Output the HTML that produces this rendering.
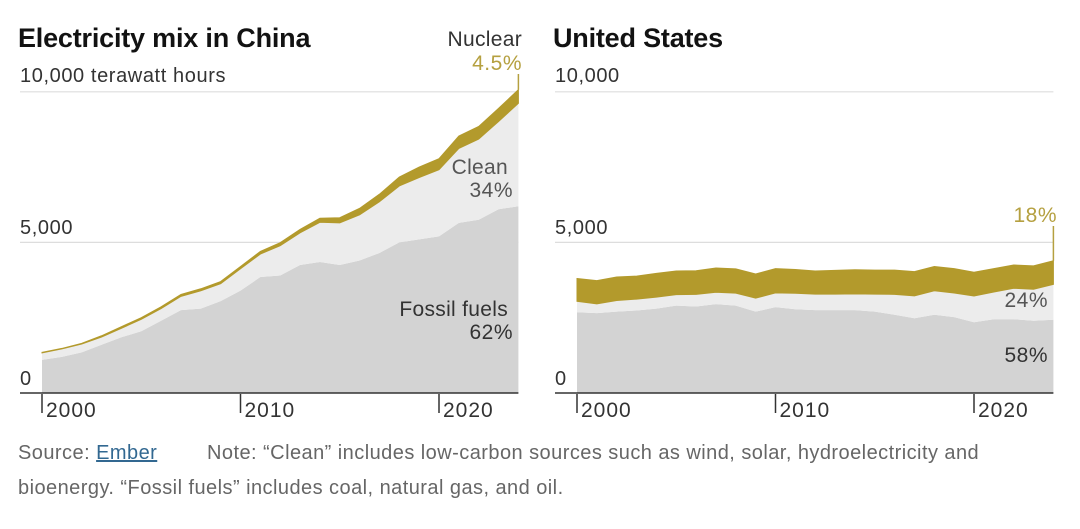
<!DOCTYPE html>
<html><head><meta charset="utf-8"><style>
body{margin:0;background:#fff;}
svg text{font-family:"Liberation Sans",sans-serif;}
</style></head><body>
<svg id="c" width="1080" height="524" xmlns="http://www.w3.org/2000/svg">
<text x="18" y="47" font-size="27" font-weight="bold" fill="#121212" letter-spacing="-0.2">Electricity mix in China</text>
<text x="553" y="47" font-size="27" font-weight="bold" fill="#121212" letter-spacing="-0.2">United States</text>
<text x="20" y="82" font-size="20" fill="#333" letter-spacing="0.6">10,000 terawatt hours</text>
<text x="555" y="82" font-size="20" fill="#333" letter-spacing="0.6">10,000</text>
<text x="20" y="234" font-size="20" fill="#333" letter-spacing="0.6">5,000</text>
<text x="555" y="234" font-size="20" fill="#333" letter-spacing="0.6">5,000</text>
<text x="20" y="385" font-size="20" fill="#333">0</text>
<text x="555" y="385" font-size="20" fill="#333">0</text>
<g id="china"></g>
<g id="us"></g>
<text x="522" y="46" font-size="21" fill="#333" text-anchor="end" letter-spacing="0.3">Nuclear</text>
<text x="522" y="70" font-size="21" fill="#b5a040" text-anchor="end" letter-spacing="0.5">4.5%</text>
<text x="508" y="174" font-size="21" fill="#555" text-anchor="end" letter-spacing="0.3">Clean</text>
<text x="513" y="197" font-size="21" fill="#555" text-anchor="end" letter-spacing="0.5">34%</text>
<text x="508" y="316" font-size="21" fill="#333" text-anchor="end" letter-spacing="0.3">Fossil fuels</text>
<text x="513" y="339" font-size="21" fill="#333" text-anchor="end" letter-spacing="0.5">62%</text>
<text x="1057" y="222" font-size="21" fill="#b5a040" text-anchor="end" letter-spacing="0.5">18%</text>
<text x="1048" y="307" font-size="21" fill="#555" text-anchor="end" letter-spacing="0.5">24%</text>
<text x="1048" y="362" font-size="21" fill="#333" text-anchor="end" letter-spacing="0.5">58%</text>
<text x="18" y="459" font-size="20" fill="#666" letter-spacing="0.45">Source: <tspan fill="#326891" text-decoration="underline">Ember</tspan></text>
<text x="207" y="459" font-size="20" fill="#666" letter-spacing="0.45">Note: “Clean” includes low-carbon sources such as wind, solar, hydroelectricity and</text>
<text x="18" y="494" font-size="20" fill="#666" letter-spacing="0.45">bioenergy. “Fossil fuels” includes coal, natural gas, and oil.</text>
</svg>
<script>
const years=[2000,2001,2002,2003,2004,2005,2006,2007,2008,2009,2010,2011,2012,2013,2014,2015,2016,2017,2018,2019,2020,2021,2022,2023,2024];
const chinaFossil=[1100,1200,1350,1600,1850,2050,2400,2750,2800,3050,3400,3850,3900,4250,4350,4250,4400,4650,5000,5100,5200,5650,5750,6100,6200];
const chinaClean=[233,263,275,257,300,397,405,458,592,580,726,763,992,1068,1317,1399,1517,1702,1875,2052,2214,2472,2682,2915,3419];
const chinaNuclear=[17,17,25,43,50,53,55,62,68,70,74,87,98,112,133,171,213,248,295,348,366,408,418,435,451];
const usFossil=[2680,2650,2700,2740,2800,2900,2870,2950,2900,2700,2850,2780,2750,2750,2750,2700,2600,2480,2600,2520,2350,2450,2450,2400,2430];
const usClean=[366,311,370,376,381,368,403,394,414,451,473,530,531,531,543,583,675,745,793,801,870,902,1028,1045,1178];
const usNuclear=[754,769,780,764,789,782,787,806,806,799,807,790,769,789,797,797,805,805,807,809,790,778,772,775,782];
const tickYears=[2000,2010,2020];
const tickLabels=["2000","2010","2020"];
const gridVals=[5000,10000];
const NS="http://www.w3.org/2000/svg";
function y(v){return 393-v*0.03012;}
function draw(gid,x0,fossil,clean,nuc,pre){
  const g=document.getElementById(gid);
  const x=yr=>x0+(yr-2000)*19.85;
  const right=x(2024);
  gridVals.forEach(v=>{const l=document.createElementNS(NS,'line');
    l.setAttribute('x1',x0-22);l.setAttribute('x2',right);l.setAttribute('y1',y(v));l.setAttribute('y2',y(v));
    l.setAttribute('stroke','#ddd');l.setAttribute('stroke-width','1.2');
    
    
    g.appendChild(l);});
  const layers=[[fossil,'#d3d3d3','fossil'],[clean,'#ececec','clean'],[nuc,'#b39a2c','nuclear']];
  let base=years.map(()=>0);
  layers.forEach(([arr,col,nm])=>{
    const top=base.map((b,i)=>b+arr[i]);
    let d='M'+years.map((yr,i)=>x(yr)+','+y(top[i])).join('L');
    for(let i=years.length-1;i>=0;i--)d+='L'+x(years[i])+','+y(base[i]);
    d+='Z';
    const p=document.createElementNS(NS,'path');p.setAttribute('d',d);p.setAttribute('fill',col);
    if(nm==='nuclear'){p.setAttribute('stroke',col);p.setAttribute('stroke-width','1');}
    
    
    g.appendChild(p);base=top;});
  const last=years.length-1;
  const ln=document.createElementNS(NS,'line');
  ln.setAttribute('x1',right);ln.setAttribute('x2',right);ln.setAttribute('y1',y(base[last]));
  ln.setAttribute('y2',pre==='china'?74:226);ln.setAttribute('stroke','#b5a040');ln.setAttribute('stroke-width','1.5');
  
  
  g.appendChild(ln);
  const ax=document.createElementNS(NS,'line');
  ax.setAttribute('x1',x0-22);ax.setAttribute('x2',right);ax.setAttribute('y1',393);ax.setAttribute('y2',393);
  ax.setAttribute('stroke','#333');ax.setAttribute('stroke-width','1.5');
  
  
  g.appendChild(ax);
  tickYears.forEach((yr,i)=>{const t=document.createElementNS(NS,'line');
    t.setAttribute('x1',x(yr));t.setAttribute('x2',x(yr));t.setAttribute('y1',394);t.setAttribute('y2',413);
    t.setAttribute('stroke','#333');t.setAttribute('stroke-width','1.5');
    
    
    g.appendChild(t);
    const tx=document.createElementNS(NS,'text');tx.setAttribute('x',x(yr)+4);tx.setAttribute('y',417);
    tx.setAttribute('font-size','21');tx.setAttribute('letter-spacing','1');tx.setAttribute('fill','#333');tx.textContent=tickLabels[i];
    
    
    g.appendChild(tx);});
}
draw('china',42,chinaFossil,chinaClean,chinaNuclear,'china');
draw('us',577,usFossil,usClean,usNuclear,'us');
</script>
</body></html>
